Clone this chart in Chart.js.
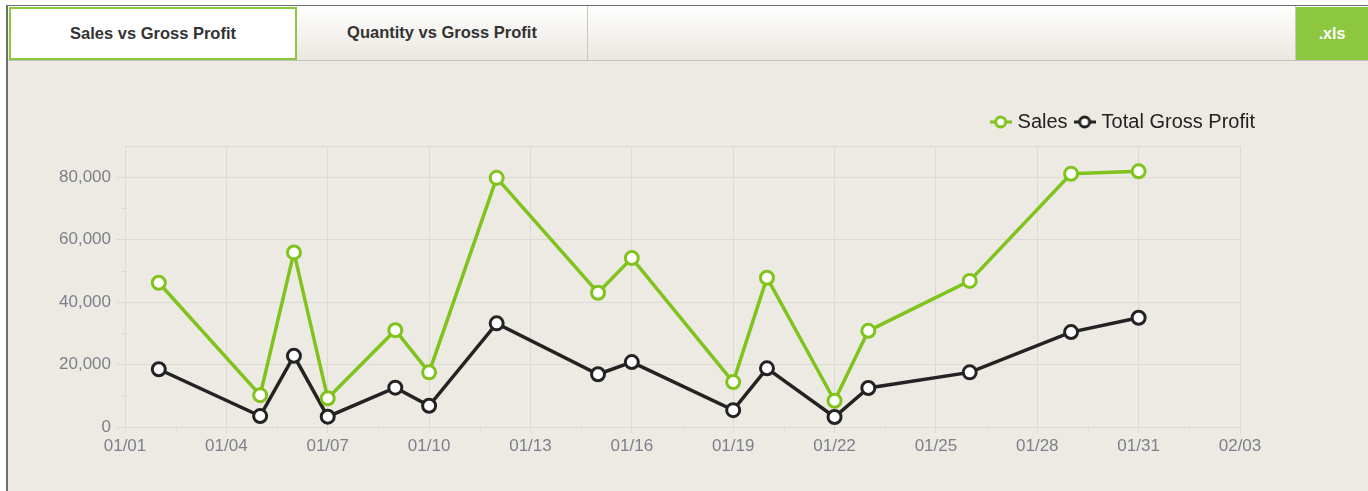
<!DOCTYPE html>
<html>
<head>
<meta charset="utf-8">
<script src="https://cdn.jsdelivr.net/npm/chart.js@4.4.1/dist/chart.umd.min.js"></script>
<style>
    html, body { margin: 0; padding: 0; background: #fff; }
    body { width: 1368px; height: 491px; position: relative; overflow: hidden; font-family: "Liberation Sans", Arial, sans-serif; }
    #frame { position: absolute; left: 6px; top: 5px; right: 0; bottom: 0; border-left: 2px solid #6e6e6e; border-top: 1px solid #6e6e6e; background: #edeae3; }
    #tabs { position: absolute; left: 0; top: 0; right: 0; height: 54px; border-bottom: 1px solid #c4c2bc; background: linear-gradient(#fefefe, #ebe8e1); }
    .tab { position: absolute; top: 0; height: 54px; line-height: 54px; text-align: center; font-weight: bold; font-size: 16.5px; color: #333; box-sizing: border-box; }
    #tab1 { left: 1px; width: 288px; top: 1px; height: 53px; line-height: 49px; background: #fff; border: 2px solid #8dc63f; }
    #tab2 { left: 289px; width: 291px; line-height: 52px; border-right: 1px solid #c8c6c0; }
    #sep { position: absolute; left: 1287px; top: 0; width: 1px; height: 54px; background: #c8c6c0; }
    #xls { position: absolute; left: 1288px; top: 1px; right: 0; height: 53px; line-height: 53px; text-align: center; background: #8dc63f; color: #fff; font-weight: bold; font-size: 16px; }
    #chartBox { position: absolute; left: 8px; top: 61px; width: 1360px; height: 430px; }
</style>
</head>
<body>
<div id="frame">
    <div id="tabs">
        <div class="tab" id="tab1">Sales vs Gross Profit</div>
        <div class="tab" id="tab2">Quantity vs Gross Profit</div>
        <div id="sep"></div>
        <div id="xls">.xls</div>
    </div>
</div>
<div id="chartBox"><canvas id="salesChart"></canvas></div>
<script>
// data
const dates = ['01/02', '01/05', '01/06', '01/07', '01/09', '01/10', '01/12', '01/15', '01/16', '01/19', '01/20', '01/22', '01/23', '01/26', '01/29', '01/31'];
const sales = [46200, 10200, 55900, 9200, 31000, 17500, 79800, 43000, 54100, 14400, 47800, 8400, 30800, 46800, 81100, 81900];
const grossProfit = [18500, 3500, 22800, 3300, 12600, 6800, 33200, 16900, 20800, 5400, 18800, 3200, 12500, 17500, 30400, 35000];
const xTickLabels = ['01/01', '01/04', '01/07', '01/10', '01/13', '01/16', '01/19', '01/22', '01/25', '01/28', '01/31', '02/03'];

const green = '#7fc31c';
const dark = '#232323';
const gridColor = '#dcdad4';
const tickFont = { family: '"Liberation Sans", Arial, sans-serif', size: 17 };

// day offset from 01/01
const toDay = (s) => {
    const [m, d] = s.split('/').map(Number);
    return (m === 1 ? 0 : 31) + d - 1;
};
const toPoints = (values) => dates.map((d, i) => ({ x: toDay(d), y: values[i] }));

// legend marker: little line with a ring on it
const legendMarker = (color) => {
    const c = document.createElement('canvas');
    c.width = 22; c.height = 14;
    const g = c.getContext('2d');
    g.strokeStyle = color;
    g.lineWidth = 3;
    g.beginPath(); g.moveTo(0, 7); g.lineTo(22, 7); g.stroke();
    g.fillStyle = '#fff';
    g.beginPath(); g.arc(11, 7, 5, 0, Math.PI * 2); g.fill(); g.stroke();
    return c;
};
const markers = [legendMarker(green), legendMarker(dark)];

const isMajorY = (v) => v % 20000 === 0 || v === 90000;

// short minor ticks between the labelled ones
const minorTicks = {
    id: 'minorTicks',
    afterDraw(chart) {
        const { ctx, scales: { x, y } } = chart;
        ctx.save();
        ctx.strokeStyle = gridColor;
        ctx.lineWidth = 1;
        ctx.beginPath();
        for (let d = 1.5; d < 33; d += 3) {
            const px = Math.round(x.getPixelForValue(d)) + 0.5;
            ctx.moveTo(px, y.bottom); ctx.lineTo(px, y.bottom + 4);
        }
        for (let v = 10000; v < 90000; v += 20000) {
            const py = Math.round(y.getPixelForValue(v)) + 0.5;
            ctx.moveTo(x.left - 4, py); ctx.lineTo(x.left, py);
        }
        ctx.stroke();
        ctx.restore();
    }
};

// legend sits a bit higher above the plot than the layout puts it
const liftLegend = {
    id: 'liftLegend',
    afterLayout(chart) {
        if (chart.legend) {
            chart.legend.top -= 4;
            chart.legend.bottom -= 4;
        }
    }
};

const salesChart = new Chart(document.getElementById('salesChart'), {
    type: 'line',
    data: {
        datasets: [{
            label: 'Sales',
            data: toPoints(sales),
            borderColor: green,
            backgroundColor: '#fff',
            pointBackgroundColor: '#fff',
            pointBorderColor: green,
            borderWidth: 3.5,
            pointRadius: 6.5,
            pointBorderWidth: 3,
            tension: 0
        }, {
            label: 'Total Gross Profit',
            data: toPoints(grossProfit),
            borderColor: dark,
            backgroundColor: '#fff',
            pointBackgroundColor: '#fff',
            pointBorderColor: dark,
            borderWidth: 3.5,
            pointRadius: 6.5,
            pointBorderWidth: 3,
            tension: 0
        }]
    },
    options: {
        responsive: true,
        maintainAspectRatio: false,
        animation: false,
        layout: { padding: { top: 34, right: 103, bottom: 24, left: 0 } },
        plugins: {
            tooltip: { enabled: false },
            legend: {
                position: 'top',
                align: 'end',
                labels: {
                    usePointStyle: true,
                    pointStyleWidth: 14,
                    padding: 10,
                    color: '#222',
                    font: { family: '"Liberation Sans", Arial, sans-serif', size: 20 },
                    generateLabels(chart) {
                        const items = Chart.defaults.plugins.legend.labels.generateLabels(chart);
                        items.forEach((it, i) => { it.pointStyle = markers[i]; });
                        return items;
                    }
                }
            }
        },
        scales: {
            x: {
                type: 'linear',
                min: 0,
                max: 33,
                afterFit(scale) {
                    scale.height = 40;
                    scale.paddingLeft = 0;
                    scale.paddingRight = 128;
                },
                grid: { color: gridColor, tickLength: 6, tickColor: gridColor },
                border: { color: gridColor },
                ticks: {
                    stepSize: 3,
                    padding: 3,
                    maxRotation: 0,
                    autoSkip: false,
                    color: '#7d808a',
                    font: tickFont,
                    callback: (v, i) => xTickLabels[i]
                }
            },
            y: {
                min: 0,
                max: 90000,
                afterFit(scale) {
                    scale.width = 117;
                    scale.paddingTop = 85;
                    scale.paddingBottom = 0;
                },
                grid: {
                    color: (c) => (c.tick && isMajorY(c.tick.value) ? gridColor : 'transparent'),
                    tickLength: 8,
                    tickColor: (c) => (c.tick && c.tick.value % 20000 === 0 ? gridColor : 'transparent')
                },
                border: { color: gridColor },
                ticks: {
                    stepSize: 10000,
                    padding: 6,
                    autoSkip: false,
                    color: '#7d808a',
                    font: tickFont,
                    callback: (v) => (v % 20000 === 0 ? v.toLocaleString('en-US') : '')
                }
            }
        }
    },
    plugins: [minorTicks, liftLegend]
});
</script>
</body>
</html>
